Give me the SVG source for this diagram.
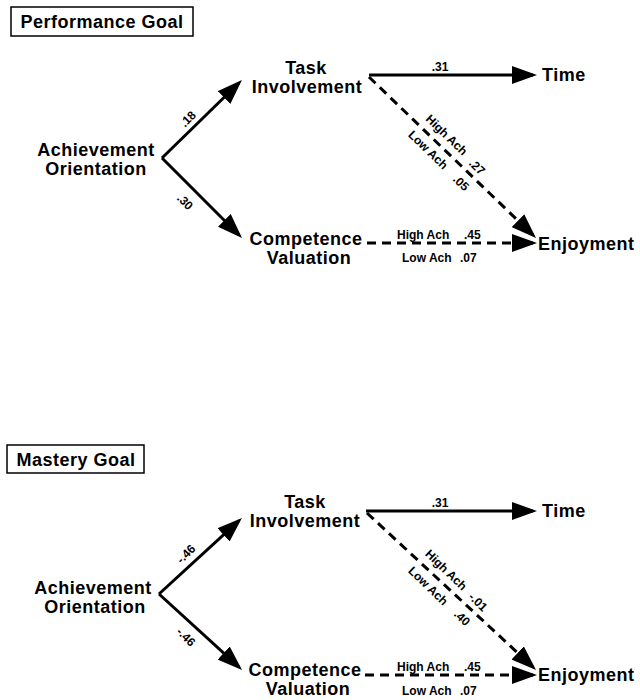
<svg xmlns="http://www.w3.org/2000/svg" width="640" height="700" viewBox="0 0 640 700">
  <defs>
    <style>
      text { font-family: "Liberation Sans", Arial, sans-serif; font-weight: bold; fill: #000; }
      .node { font-size: 18px; letter-spacing: 0.5px; text-anchor: middle; }
      .start { text-anchor: start; }
      .title { font-size: 18px; letter-spacing: 0.5px; text-anchor: middle; }
      .lbl { font-size: 12px; text-anchor: middle; dominant-baseline: central; }
      .hl { font-size: 12px; text-anchor: start; }
      .mid { text-anchor: middle; }
      .box { fill: #fff; stroke: #000; stroke-width: 1.5; }
      .solid { fill: none; stroke: #000; stroke-width: 3; marker-end: url(#ah); }
      .dash { fill: none; stroke: #000; stroke-width: 3; stroke-dasharray: 9 6; marker-end: url(#ah); }
    </style>
    <marker id="ah" markerWidth="25" markerHeight="18" refX="21" refY="9" orient="auto" markerUnits="userSpaceOnUse">
      <path d="M0,0 L25,9 L0,18 z" fill="#000"/>
    </marker>
  </defs>
  <rect width="640" height="700" fill="#fff"/>

  <!-- Performance Goal panel -->
  <g id="perf-title">
    <rect class="box" x="11" y="7" width="182" height="29"/>
    <text class="title" x="102" y="28">Performance Goal</text>
  </g>
  <g id="perf-achievement">
    <text class="node" x="96" y="156">Achievement</text>
    <text class="node" x="96" y="175">Orientation</text>
  </g>
  <g id="perf-task">
    <text class="node" x="306" y="74">Task</text>
    <text class="node" x="307" y="93">Involvement</text>
  </g>
  <g id="perf-competence">
    <text class="node" x="306" y="245">Competence</text>
    <text class="node" x="309" y="264">Valuation</text>
  </g>
  <g id="perf-time">
    <text class="node start" x="542" y="81">Time</text>
  </g>
  <g id="perf-enjoyment">
    <text class="node start" x="538" y="250">Enjoyment</text>
  </g>

  <!-- Mastery Goal panel -->
  <g id="mastery-title">
    <rect class="box" x="7" y="445" width="137" height="28"/>
    <text class="title" x="76" y="466">Mastery Goal</text>
  </g>
  <g id="mastery-achievement">
    <text class="node" x="93" y="594">Achievement</text>
    <text class="node" x="95" y="613">Orientation</text>
  </g>
  <g id="mastery-task">
    <text class="node" x="305" y="508">Task</text>
    <text class="node" x="305" y="527">Involvement</text>
  </g>
  <g id="mastery-competence">
    <text class="node" x="305" y="676">Competence</text>
    <text class="node" x="308" y="695">Valuation</text>
  </g>
  <g id="mastery-time">
    <text class="node start" x="542" y="517">Time</text>
  </g>
  <g id="mastery-enjoyment">
    <text class="node start" x="538" y="681">Enjoyment</text>
  </g>

  <g id="connectors">
    <!-- Performance -->
    <g id="perf-ach-task">
      <path class="solid" d="M162,158 L239.1,82.8"/>
      <text class="lbl" transform="translate(188,119) rotate(-45)">.18</text>
    </g>
    <g id="perf-ach-comp">
      <path class="solid" d="M162,158 L239.2,235.2"/>
      <text class="lbl" transform="translate(185,202) rotate(45)">.30</text>
    </g>
    <g id="perf-task-time">
      <path class="solid" d="M369,75 L533,75"/>
      <text class="hl mid" x="440" y="71">.31</text>
    </g>
    <g id="perf-task-enj">
      <path class="dash" d="M369,77 L533.1,235.2"/>
      <text class="lbl" transform="translate(446.5,135) rotate(44)">High Ach</text>
      <text class="lbl" transform="translate(477,167) rotate(44)">.27</text>
      <text class="lbl" transform="translate(428,150) rotate(44)">Low Ach</text>
      <text class="lbl" transform="translate(461,183) rotate(44)">.05</text>
    </g>
    <g id="perf-comp-enj">
      <path class="dash" d="M367,243 L533,243"/>
      <text class="hl" x="397" y="239">High Ach</text>
      <text class="hl" x="464" y="239">.45</text>
      <text class="hl" x="402" y="262">Low Ach</text>
      <text class="hl" x="460" y="262">.07</text>
    </g>

    <!-- Mastery -->
    <g id="mastery-ach-task">
      <path class="solid" d="M159,594 L239,520.7"/>
      <text class="lbl" transform="translate(186,554) rotate(-45)">-.46</text>
    </g>
    <g id="mastery-ach-comp">
      <path class="solid" d="M159,594 L239.1,667.2"/>
      <text class="lbl" transform="translate(186,637) rotate(45)">-.46</text>
    </g>
    <g id="mastery-task-time">
      <path class="solid" d="M366,511 L533,511"/>
      <text class="hl mid" x="440" y="507">.31</text>
    </g>
    <g id="mastery-task-enj">
      <path class="dash" d="M367,513 L533.1,667.2"/>
      <text class="lbl" transform="translate(446,570) rotate(44)">High Ach</text>
      <text class="lbl" transform="translate(478,602) rotate(44)">-.01</text>
      <text class="lbl" transform="translate(428,586) rotate(44)">Low Ach</text>
      <text class="lbl" transform="translate(462,618) rotate(44)">.40</text>
    </g>
    <g id="mastery-comp-enj">
      <path class="dash" d="M365,675 L533,675"/>
      <text class="hl" x="397" y="671">High Ach</text>
      <text class="hl" x="464" y="671">.45</text>
      <text class="hl" x="402" y="695">Low Ach</text>
      <text class="hl" x="460" y="695">.07</text>
    </g>
  </g>
</svg>
